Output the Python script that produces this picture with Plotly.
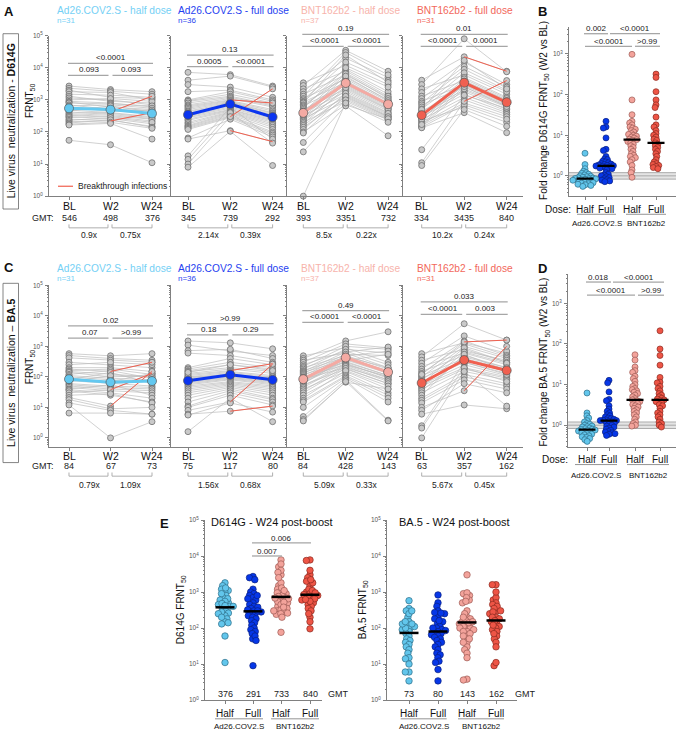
import numpy as np
import plotly.graph_objects as go

W, H = 680, 735
FONT = "Liberation Sans, Arial, sans-serif"

# ---------------------------------------------------------------- data
timepoints = ["BL", "W2", "W24"]
group_titles = ["Ad26.COV2.S - half dose", "Ad26.COV2.S - full dose",
                "BNT162b2 - half dose", "BNT162b2 - full dose"]
group_n = ["n=31", "n=36", "n=37", "n=31"]
dose_labels = ["Half", "Full", "Half", "Full"]
vaccine_labels = ["Ad26.COV2.S", "BNT162b2"]

# Panel A: D614G FRNT50 per participant (BL, W2, W24); bt = breakthrough infections
a1_bl = [2700, 2300, 2000, 1800, 1500, 1300, 1150, 1000, 900, 850, 800, 700, 650, 600, 560, 520, 480, 450, 420, 380, 350, 320, 300, 280, 250, 230, 210, 190, 175, 165, 55]
a1_w2 = [2100, 1900, 1200, 1700, 1400, 900, 1000, 1100, 800, 600, 750, 500, 700, 450, 550, 480, 400, 650, 350, 420, 300, 380, 260, 320, 230, 280, 220, 240, 200, 185, 40]
a1_w24 = [1800, 1500, 1100, 1000, 1200, 800, 700, 900, 600, 500, 650, 450, 550, 400, 350, 480, 300, 420, 260, 1300, 220, 280, 180, 250, 150, 200, 400, 140, 130, 60, 11]
a1_bt = [19, 26]

a2_bl = [7200, 4100, 3000, 1800, 1000, 950, 900, 800, 700, 650, 600, 550, 500, 450, 420, 380, 350, 320, 300, 280, 250, 230, 200, 180, 160, 150, 140, 130, 120, 65, 60, 18, 14, 10, 8, 300]
a2_w2 = [6100, 5500, 2500, 2000, 1800, 1500, 1300, 1200, 1100, 1000, 950, 900, 850, 800, 750, 700, 650, 600, 550, 500, 480, 450, 420, 400, 380, 350, 320, 300, 280, 250, 110, 600, 400, 300, 105, 900]
a2_w24 = [2700, 2500, 1200, 1000, 900, 800, 700, 650, 600, 800, 500, 450, 400, 380, 350, 320, 300, 280, 260, 240, 220, 200, 180, 160, 140, 120, 100, 90, 80, 70, 50, 60, 45, 2200, 9, 300]
a2_bt = [9, 30, 33]

a3_bl = [3400, 2800, 2200, 1800, 1500, 1300, 1100, 1000, 900, 850, 800, 700, 650, 600, 550, 500, 450, 420, 400, 380, 350, 320, 300, 280, 260, 240, 220, 200, 180, 160, 140, 120, 100, 93, 47, 24, 1]
a3_w2 = [12000, 35000, 8000, 20000, 6000, 30000, 4500, 15000, 9000, 3500, 25000, 5000, 2800, 7000, 10000, 2200, 4000, 6500, 1800, 3000, 5500, 1500, 3800, 2600, 1200, 3200, 2000, 900, 2400, 1400, 1100, 1600, 700, 1300, 1000, 650, 800]
a3_w24 = [3000, 7800, 1500, 5000, 1200, 6000, 900, 4000, 1800, 700, 3500, 1000, 600, 1300, 2500, 500, 800, 1100, 400, 650, 950, 350, 750, 550, 300, 680, 450, 240, 520, 320, 280, 380, 250, 300, 260, 76, 200]
a3_bt = []

a4_bl = [4100, 3000, 2200, 1700, 1300, 1100, 900, 800, 700, 600, 520, 450, 400, 360, 330, 300, 270, 240, 220, 200, 180, 160, 150, 140, 135, 28, 11, 9, 500, 250, 170]
a4_w2 = [22000, 80000, 6000, 15000, 4000, 11000, 3000, 9000, 2500, 7000, 5000, 2000, 3500, 1800, 4500, 1500, 2800, 1200, 600, 3200, 1000, 800, 2200, 700, 400, 1400, 900, 500, 17000, 3800, 2600]
a4_w24 = [7800, 7500, 1500, 3000, 1000, 2500, 800, 2000, 700, 1800, 1200, 600, 900, 500, 1100, 450, 750, 400, 200, 850, 350, 300, 650, 250, 95, 550, 4000, 150, 2200, 950, 620]
a4_bt = [0, 26]

a_gmt = [[546, 498, 376], [345, 739, 292], [393, 3351, 732], [334, 3435, 840]]
a_fold = [["0.9x", "0.75x"], ["2.14x", "0.39x"], ["8.5x", "0.22x"], ["10.2x", "0.24x"]]
a_p = [["<0.0001", "0.093", "0.093"], ["0.13", "0.0005", "<0.0001"],
       ["0.19", "<0.0001", "<0.0001"], ["0.01", "<0.0001", "0.0001"]]

# Panel C: BA.5 FRNT50
c1_bl = [575, 500, 420, 300, 250, 200, 180, 160, 150, 140, 120, 110, 100, 90, 80, 75, 70, 60, 55, 50, 45, 40, 38, 35, 30, 25, 21, 18, 14, 12, 6.5]
c1_w2 = [490, 400, 350, 250, 300, 200, 150, 180, 120, 100, 160, 90, 80, 70, 140, 60, 110, 50, 45, 40, 35, 55, 30, 25, 38, 28, 11, 9, 8, 1, 6.5]
c1_w24 = [575, 350, 300, 200, 250, 150, 300, 120, 100, 110, 90, 80, 70, 130, 60, 50, 100, 45, 40, 35, 30, 25, 20, 15, 130, 14, 150, 10, 6, 3.4, 6]
c1_bt = [6, 24, 26]

c2_bl = [1500, 1100, 720, 600, 200, 180, 160, 150, 130, 120, 110, 100, 90, 85, 80, 75, 70, 65, 60, 55, 50, 45, 40, 35, 30, 25, 20, 15, 11, 10, 8, 6, 5.6, 1.6, 100, 140]
c2_w2 = [1300, 700, 800, 500, 400, 300, 250, 200, 180, 160, 150, 140, 130, 120, 110, 100, 95, 90, 85, 80, 70, 65, 60, 55, 50, 45, 40, 35, 30, 25, 15, 7.5, 14, 20, 110, 250]
c2_w24 = [830, 500, 400, 300, 250, 200, 180, 150, 130, 270, 110, 100, 90, 85, 80, 75, 70, 65, 60, 55, 50, 45, 40, 35, 30, 25, 20, 18, 15, 12, 260, 11, 7, 3.4, 100, 160]
c2_bt = [9, 30, 31]

c3_bl = [490, 400, 350, 300, 250, 220, 200, 180, 160, 150, 140, 130, 120, 110, 100, 95, 90, 85, 80, 75, 70, 65, 60, 55, 50, 45, 40, 35, 30, 25, 20, 17, 15, 10, 5, 4, 3.6]
c3_w2 = [900, 1500, 600, 1200, 700, 1000, 500, 800, 440, 650, 360, 550, 300, 480, 250, 420, 460, 200, 380, 340, 320, 280, 400, 180, 260, 240, 150, 220, 190, 130, 160, 110, 100, 90, 80, 67, 70]
c3_w24 = [300, 3000, 200, 900, 250, 800, 180, 600, 150, 950, 130, 500, 110, 700, 100, 160, 200, 80, 140, 550, 110, 90, 150, 60, 100, 80, 40, 70, 60, 30, 50, 25, 20, 15, 3.8, 40, 3.6]
c3_bt = []

c4_bl = [575, 450, 350, 280, 220, 180, 150, 130, 110, 100, 90, 80, 70, 60, 55, 50, 45, 40, 35, 30, 25, 20, 17, 14, 10, 8, 6, 2.5, 2.1, 1, 120]
c4_w2 = [1300, 5500, 800, 2200, 600, 1500, 500, 1200, 400, 1000, 350, 700, 300, 900, 250, 200, 650, 180, 450, 150, 550, 120, 100, 80, 35, 60, 12, 300, 200, 150, 1400]
c4_w24 = [600, 1600, 300, 700, 250, 500, 200, 450, 180, 400, 150, 350, 130, 300, 110, 100, 280, 90, 200, 80, 160, 60, 50, 40, 1000, 30, 9, 120, 70, 11, 1600]
c4_bt = [24, 30]

c_gmt = [[84, 67, 73], [75, 117, 80], [84, 428, 143], [63, 357, 162]]
c_fold = [["0.79x", "1.09x"], ["1.56x", "0.68x"], ["5.09x", "0.33x"], ["5.67x", "0.45x"]]
c_p = [["0.02", "0.07", ">0.99"], [">0.99", "0.18", "0.29"],
       ["0.49", "<0.0001", "<0.0001"], ["0.033", "<0.0001", "0.003"]]

# Panel B: fold change D614G (W2 vs BL)
b_half_ad = [3.6, 1.9, 1.5, 1.3, 1.2, 1.15, 1.1, 1.05, 1.0, 0.98, 0.95, 0.92, 0.9, 0.88, 0.86, 0.85, 0.84, 0.82, 0.8, 0.78, 0.76, 0.74, 0.72, 0.7, 0.68, 0.66, 0.64, 0.62, 0.6, 0.58, 0.55]
b_full_ad = [22, 16, 15, 8.6, 4.5, 4.2, 3.0, 2.6, 2.5, 2.3, 2.2, 2.1, 2.0, 1.95, 1.9, 1.85, 1.8, 1.78, 1.75, 1.7, 1.65, 1.6, 1.55, 1.5, 1.4, 1.2, 1.1, 1.05, 1.0, 0.95, 0.9, 0.85, 0.8, 0.78, 0.75, 0.72]
b_half_bnt = [980, 74, 32, 22, 20, 18, 16, 15, 14, 13, 12, 11, 10.5, 10, 9.5, 9, 8.5, 8, 7.8, 7.5, 7, 6.5, 6, 5.5, 5, 4.5, 4, 3.5, 3.2, 3, 2.8, 2.5, 2.2, 1.8, 1.4, 1.2, 0.92]
b_full_bnt = [320, 265, 118, 74, 56, 48, 28, 18, 16, 13, 11, 10, 9, 8, 7.5, 6.5, 6, 5.5, 5, 4.5, 4, 3.5, 3, 2.5, 2.2, 2, 1.9, 1.8, 1.7, 1.6, 1.5]
b_p = [("0.002", 0, 1), ("<0.0001", 1, 3), ("<0.0001", 0, 2), (">0.99", 2, 3)]

# Panel D: fold change BA.5 (W2 vs BL)
d_half_ad = [6.2, 2.0, 1.7, 1.5, 1.3, 1.2, 1.1, 1.05, 1.0, 0.95, 0.92, 0.9, 0.85, 0.82, 0.8, 0.78, 0.76, 0.74, 0.72, 0.7, 0.68, 0.65, 0.62, 0.6, 0.58, 0.55, 0.52, 0.5, 0.47, 0.44, 0.4]
d_full_ad = [12.7, 11, 6.6, 4.3, 4.0, 3.0, 2.5, 2.2, 2.0, 1.8, 1.7, 1.6, 1.5, 1.45, 1.4, 1.35, 1.32, 1.3, 1.3, 1.25, 1.2, 1.15, 1.1, 1.05, 1.0, 0.95, 0.9, 0.85, 0.8, 0.75, 0.7, 0.68, 0.65, 0.62, 0.6, 0.56]
d_half_bnt = [54, 40, 27, 22, 20, 16, 14, 12, 10, 9, 8, 7.5, 7, 6.5, 6, 5.5, 5, 4.5, 4.2, 4.0, 3.8, 3.6, 3.4, 3.2, 3.0, 2.8, 2.6, 2.4, 2.2, 2.0, 1.8, 1.6, 1.4, 1.2, 1.1, 1.0, 0.95]
d_full_bnt = [210, 75, 52, 30, 15, 11.5, 11, 9, 8, 7, 6, 5.5, 5, 4.6, 4.4, 4.2, 4.0, 3.8, 3.5, 3.2, 3.0, 2.6, 2.2, 2.0, 1.8, 1.6, 1.4, 1.2, 1.1, 1.0, 0.9]
d_p = [("0.018", 0, 1), ("<0.0001", 1, 3), ("<0.0001", 0, 2), (">0.99", 2, 3)]

# Panel E: W24 post-boost (same participants as W24 in A and C)
e_d614g_gmt = [376, 291, 733, 840]
e_ba5_gmt = [73, 80, 143, 162]
e_d614g_p = [("0.006", 1, 3), ("0.007", 1, 2)]

# ---------------------------------------------------------------- styling
grp_fill = ["#62c6ec", "#0637e8", "#f3a39b", "#ee5546"]
grp_edge = ["#2f6f88", "#0a1f80", "#9c5a55", "#8a2a20"]
grp_line = ["#63c8f0", "#0b35f0", "#f4aaa3", "#f06050"]
title_col = ["#75d0f5", "#1f3ff0", "#f7b3ab", "#f2685b"]
AXC = "#808080"
BRK = "#a6a6a6"
TXT = "#222222"

fig = go.Figure()
ann, shp, lay = [], [], {}


def text(x, y, s, size=9.0, color=TXT, xa="center", ya="middle", angle=0):
    ann.append(dict(x=x / W, y=1 - y / H, xref="paper", yref="paper", text=s, showarrow=False,
                    font=dict(size=size, color=color, family=FONT), xanchor=xa, yanchor=ya,
                    textangle=angle, borderpad=0))


def seg(x0, y0, x1, y1, color=BRK, width=1.3, layer="above"):
    shp.append(dict(type="line", xref="paper", yref="paper", x0=x0 / W, y0=1 - y0 / H,
                    x1=x1 / W, y1=1 - y1 / H, line=dict(color=color, width=width), layer=layer))


def path(pts, color=BRK, width=0.9):
    d = "M " + " L ".join(f"{x / W:.5f},{1 - y / H:.5f}" for x, y in pts)
    shp.append(dict(type="path", xref="paper", yref="paper", path=d, line=dict(color=color, width=width)))


def ypx(v, ydom, yrng):
    top, bot = ydom
    return top + (yrng[1] - np.log10(v)) / (yrng[1] - yrng[0]) * (bot - top)


MAJ = [1, 10, 100, 1000, 10000, 100000]
MAJ_TXT = [f"10<sup>{i}</sup>" for i in range(6)]
MIN = [k * 10.0 ** e for e in range(-1, 5) for k in range(2, 10)]


def add_axes(n, xdom, ydom, xrng, yrng, xticks, ylabels=True):
    s = "" if n == 1 else str(n)
    lay["xaxis" + s] = dict(domain=[xdom[0] / W, xdom[1] / W], range=xrng, anchor="y" + s,
                            showline=True, linecolor=AXC, linewidth=1, ticks="outside", ticklen=3,
                            tickcolor=AXC, tickvals=xticks, showticklabels=False, showgrid=False,
                            zeroline=False, fixedrange=True)
    lay["yaxis" + s] = dict(domain=[1 - ydom[1] / H, 1 - ydom[0] / H], range=yrng, type="log",
                            anchor="x" + s, showline=True, linecolor=AXC, linewidth=1,
                            ticks="outside", ticklen=3, tickcolor=AXC, tickvals=MAJ, ticktext=MAJ_TXT,
                            tickfont=dict(size=6.5, color="#555555", family=FONT),
                            showticklabels=ylabels, ticklabelstandoff=1,
                            minor=dict(ticks="outside", ticklen=1.5, tickcolor=AXC, tickvals=MIN),
                            showgrid=False, zeroline=False, fixedrange=True)
    return "x" + s, "y" + s


def swarm(vals, center, yfun, d):
    ys = [yfun(v) for v in vals]
    order = sorted(range(len(vals)), key=lambda i: ys[i])
    placed, out = [], [0.0] * len(vals)
    for i in order:
        y = ys[i]
        cands = [0.0]
        for ox, oy in placed:
            dy = y - oy
            if abs(dy) < d:
                dx = (d * d - dy * dy) ** 0.5
                cands += [ox + dx, ox - dx]
        cands.sort(key=lambda c: (abs(c), c))
        c = cands[0]
        for c in cands:
            if all((c - ox) ** 2 + (y - oy) ** 2 >= d * d - 1e-6 for ox, oy in placed):
                break
        placed.append((c, y))
        out[i] = center + c
    return out


# ---------------------------------------------------------------- panels A and C
cat_px = [(69, 41.5), (188, 42.3), (303.3, 42.4), (421.7, 42.5)]
dom_x = [(49, 171), (171, 287), (287, 403), (403, 523)]

rows = [
    dict(data=[(a1_bl, a1_w2, a1_w24, a1_bt), (a2_bl, a2_w2, a2_w24, a2_bt),
               (a3_bl, a3_w2, a3_w24, a3_bt), (a4_bl, a4_w2, a4_w24, a4_bt)],
         gmt=a_gmt, fold=a_fold, p=a_p, ydom=(32, 194), yrng=[0, 5], n0=1,
         title_y=(6.5, 16.5), lab_y=204, gmt_y=216, br_y=(222.5, 226), fold_y=233,
         sig_y=[(60, 72), (51.7, 63.3), (30.7, 42.7), (30.7, 42.7)], ytitle_y=98),
    dict(data=[(c1_bl, c1_w2, c1_w24, c1_bt), (c2_bl, c2_w2, c2_w24, c2_bt),
               (c3_bl, c3_w2, c3_w24, c3_bt), (c4_bl, c4_w2, c4_w24, c4_bt)],
         gmt=c_gmt, fold=c_fold, p=c_p, ydom=(284, 447), yrng=[-0.29, 5], n0=5,
         title_y=(266.7, 277.3), lab_y=456.7, gmt_y=466.7, br_y=(473, 476.7), fold_y=486,
         sig_y=[(325, 337.3), (322.7, 334), (309.5, 321.5), (300.7, 313.3)], ytitle_y=366.7),
]
title_x = [56, 177, 300, 416]

for row in rows:
    for i in range(4):
        bl, w2, w24, bt = row["data"][i]
        blp, sp = cat_px[i]
        xr = [(dom_x[i][0] - blp) / sp, (dom_x[i][1] - blp) / sp]
        xa, ya = add_axes(row["n0"] + i, dom_x[i], row["ydom"], xr, row["yrng"], [0, 1, 2], ylabels=(i == 0))
        lx, ly = [], []
        for a, b, c in zip(bl, w2, w24):
            lx += [0, 1, 2, None]
            ly += [a, b, c, None]
        fig.add_trace(go.Scatter(x=lx, y=ly, mode="lines", line=dict(color="#bdbdbd", width=0.7),
                                 xaxis=xa, yaxis=ya, hoverinfo="skip", cliponaxis=False))
        n = len(bl)
        fig.add_trace(go.Scatter(x=[0] * n + [1] * n + [2] * n, y=list(bl) + list(w2) + list(w24),
                                 mode="markers", xaxis=xa, yaxis=ya, cliponaxis=False,
                                 marker=dict(size=6, color="#c9c9c9", line=dict(color="#707070", width=0.8))))
        if bt:
            rx, ry = [], []
            for k in bt:
                rx += [1, 2, None]
                ry += [w2[k], w24[k], None]
            fig.add_trace(go.Scatter(x=rx, y=ry, mode="lines", line=dict(color="#f0604f", width=1.0),
                                     xaxis=xa, yaxis=ya, hoverinfo="skip", cliponaxis=False))
        fig.add_trace(go.Scatter(x=[0, 1, 2], y=row["gmt"][i], mode="lines+markers", xaxis=xa, yaxis=ya,
                                 line=dict(color=grp_line[i], width=3), cliponaxis=False,
                                 marker=dict(size=9, color=grp_line[i], line=dict(color="#555555", width=0.7))))
        # titles
        text(title_x[i], row["title_y"][0], group_titles[i], size=10.2, color=title_col[i], xa="left")
        text(title_x[i], row["title_y"][1], group_n[i], size=8, color=title_col[i], xa="left")
        cx = [blp + j * sp for j in range(3)]
        for j in range(3):
            text(cx[j], row["lab_y"], timepoints[j], size=10.5, color="#111111")
            text(cx[j], row["gmt_y"], str(row["gmt"][i][j]), size=9)
        # fold brackets
        y0, y1 = row["br_y"]
        path([(cx[0], y0), (cx[0], y1), (cx[1] - 2.5, y1), (cx[1] - 2.5, y0)])
        path([(cx[1] + 1.5, y0), (cx[1] + 1.5, y1), (cx[2], y1), (cx[2], y0)])
        text((cx[0] + cx[1]) / 2, row["fold_y"], row["fold"][i][0], size=8.5)
        text((cx[1] + cx[2]) / 2, row["fold_y"], row["fold"][i][1], size=8.5)
        # significance brackets
        top_l, low_l = row["sig_y"][i]
        seg(cx[0] - 1, top_l, cx[2] + 1, top_l)
        seg(cx[0] - 1, low_l, cx[1] - 2, low_l)
        seg(cx[1] + 2, low_l, cx[2] + 1, low_l)
        text((cx[0] + cx[2]) / 2, top_l - 5.5, row["p"][i][0], size=8)
        text((cx[0] + cx[1]) / 2, low_l - 5.5, row["p"][i][1], size=8)
        text((cx[1] + cx[2]) / 2, low_l - 5.5, row["p"][i][2], size=8)
    text(43, row["gmt_y"], "GMT:", size=9)
    text(30, row["ytitle_y"], "FRNT<sub>50</sub>", size=10, angle=-90, color="#111111")

# legend for breakthrough
seg(58, 184, 73, 184, color="#f0604f", width=1.2)
text(77, 184, "Breakthrough infections", size=8.5, xa="left")

# side boxes
for (y0, y1, label) in [(30, 207, "Live virus\u00a0 neutralization - <b>D614G</b>"),
                        (282, 463, "Live virus\u00a0 neutralization \u2013 <b>BA.5</b>")]:
    shp.append(dict(type="rect", xref="paper", yref="paper", x0=3 / W, x1=18.5 / W,
                    y0=1 - y1 / H, y1=1 - y0 / H, line=dict(color="#666666", width=0.8)))
    text(11, (y0 + y1) / 2, label, size=10.5, angle=-90, color="#111111")

# ---------------------------------------------------------------- panels B and D
fold_panels = [
    dict(n=9, groups=[b_half_ad, b_full_ad, b_half_bnt, b_full_bnt], pos=[585, 606, 632, 656],
         xdom=(569, 676), ydom=(23, 194), yrng=[-0.5, 3.67], p=b_p, sig_y=(30, 42.7),
         dose_y=207.7, ul_y=212.3, vac_y=221.7, ul=[(577, 616), (626, 666)], dose_x=557.5,
         ytitle="Fold change D614G FRNT<sub>50</sub> (W2 vs BL)", ytitle_y=108),
    dict(n=10, groups=[d_half_ad, d_full_ad, d_half_bnt, d_full_bnt], pos=[587, 609, 635, 660],
         xdom=(568, 676), ydom=(273, 447), yrng=[-0.53, 3.71], p=d_p, sig_y=(280.7, 294),
         dose_y=460, ul_y=465, vac_y=475.7, ul=[(575, 617), (627, 669)], dose_x=555,
         ytitle="Fold change BA.5 FRNT<sub>50</sub> (W2 vs BL)", ytitle_y=362),
]
for fp in fold_panels:
    xa, ya = add_axes(fp["n"], fp["xdom"], fp["ydom"], list(fp["xdom"]), fp["yrng"], fp["pos"])
    yf = lambda v, fp=fp: ypx(v, fp["ydom"], fp["yrng"])
    # reference band around 1
    shp.append(dict(type="rect", xref="paper", yref="paper", x0=fp["xdom"][0] / W, x1=fp["xdom"][1] / W,
                    y0=1 - yf(0.83) / H, y1=1 - yf(1.2) / H, fillcolor="#e4e4e4",
                    line=dict(width=0), layer="below"))
    for v in (0.83, 1.0, 1.2):
        seg(fp["xdom"][0], yf(v), fp["xdom"][1], yf(v), color="#9a9a9a", width=0.8, layer="below")
    for g, vals in enumerate(fp["groups"]):
        xs = swarm(vals, fp["pos"][g], yf, 2.9)
        fig.add_trace(go.Scatter(x=xs, y=vals, mode="markers", xaxis=xa, yaxis=ya, cliponaxis=False,
                                 marker=dict(size=6, color=grp_fill[g], line=dict(color=grp_edge[g], width=0.7))))
        med = float(np.median(vals))
        fig.add_trace(go.Scatter(x=[fp["pos"][g] - 8.5, fp["pos"][g] + 8.5], y=[med, med], mode="lines",
                                 xaxis=xa, yaxis=ya, line=dict(color="black", width=2.2), hoverinfo="skip"))
    pos = fp["pos"]
    r0, r1 = fp["sig_y"]
    spans = [(pos[0] - 1, pos[1] + 2, r0), (pos[1] + 4, pos[3] + 4, r0),
             (pos[0], pos[2], r1), (pos[2] + 3, pos[3] + 4, r1)]
    for (lab, a, b), (x0, x1, yy) in zip(fp["p"], spans):
        seg(x0, yy, x1, yy)
        text((x0 + x1) / 2, yy - 5, lab, size=8)
    text(fp["dose_x"], fp["dose_y"], "Dose:", size=10, color="#111111")
    for g in range(4):
        text(pos[g], fp["dose_y"], dose_labels[g], size=10, color="#111111")
    for k, (x0, x1) in enumerate(fp["ul"]):
        seg(x0, fp["ul_y"], x1, fp["ul_y"], color="#888888", width=0.9)
        text((x0 + x1) / 2, fp["vac_y"], vaccine_labels[k], size=8, color="#111111")
    text(544, fp["ytitle_y"], fp["ytitle"], size=10, angle=-90, color="#111111")

# ---------------------------------------------------------------- panel E
e_panels = [
    dict(n=11, groups=[a1_w24, a2_w24, a3_w24, a4_w24], gmt=e_d614g_gmt, pos=[225, 253, 281, 310],
         xdom=(205, 322), title="D614G - W24 post-boost", title_x=210, gmt_x=338,
         ul=[(215, 263), (271, 319)], ytitle="D614G FRNT<sub>50</sub>", ytitle_x=181),
    dict(n=12, groups=[c1_w24, c2_w24, c3_w24, c4_w24], gmt=e_ba5_gmt, pos=[409, 438, 467, 496],
         xdom=(387, 517), title="BA.5 - W24 post-boost", title_x=398, gmt_x=525,
         ul=[(400.7, 446.7), (458, 504)], ytitle="BA.5 FRNT<sub>50</sub>", ytitle_x=363),
]
E_YDOM, E_YRNG = (521, 702.7), [0, 5]
for ep in e_panels:
    xa, ya = add_axes(ep["n"], ep["xdom"], E_YDOM, list(ep["xdom"]), E_YRNG, ep["pos"])
    yf = lambda v: ypx(v, E_YDOM, E_YRNG)
    for g, vals in enumerate(ep["groups"]):
        xs = swarm(vals, ep["pos"][g], yf, 3.7)
        fig.add_trace(go.Scatter(x=xs, y=vals, mode="markers", xaxis=xa, yaxis=ya, cliponaxis=False,
                                 marker=dict(size=6.5, color=grp_fill[g], line=dict(color=grp_edge[g], width=0.7))))
        gm = ep["gmt"][g]
        fig.add_trace(go.Scatter(x=[ep["pos"][g] - 9.5, ep["pos"][g] + 9.5], y=[gm, gm], mode="lines",
                                 xaxis=xa, yaxis=ya, line=dict(color="black", width=2.5), hoverinfo="skip"))
        text(ep["pos"][g], 697, str(gm), size=9)
        text(ep["pos"][g], 716, dose_labels[g], size=10, color="#111111")
    text(ep["gmt_x"], 697, "GMT", size=9)
    for k, (x0, x1) in enumerate(ep["ul"]):
        seg(x0, 721.7, x1, 721.7, color="#888888", width=0.9)
        text((x0 + x1) / 2, 729.5, vaccine_labels[k], size=8, color="#111111")
    text(ep["title_x"], 523, ep["title"], size=11, color="#111111", xa="left")
    text(ep["ytitle_x"], 612, ep["ytitle"], size=10, angle=-90, color="#111111")

pe = e_panels[0]["pos"]
for (lab, a, b), yy in zip(e_d614g_p, (544, 557.3)):
    seg(pe[a] - 1, yy, pe[b] + 1, yy)
    text((pe[a] + pe[b]) / 2, yy - 4.8, lab, size=8)

# panel letters
for lab, x, y in [("A", 8.5, 7.5), ("B", 542, 7.5), ("C", 9, 266), ("D", 542, 267), ("E", 164, 524)]:
    text(x, y, f"<b>{lab}</b>", size=13, color="#111111")

fig.update_layout(width=W, height=H, margin=dict(l=0, r=0, t=0, b=0), paper_bgcolor="white",
                  plot_bgcolor="rgba(0,0,0,0)", showlegend=False, font=dict(family=FONT),
                  annotations=ann, shapes=shp, **lay)
fig.write_html("out.html", config={"displayModeBar": False},
               post_script="document.body.style.margin='0';document.body.style.padding='0';"
                           "document.body.style.overflow='hidden';")
